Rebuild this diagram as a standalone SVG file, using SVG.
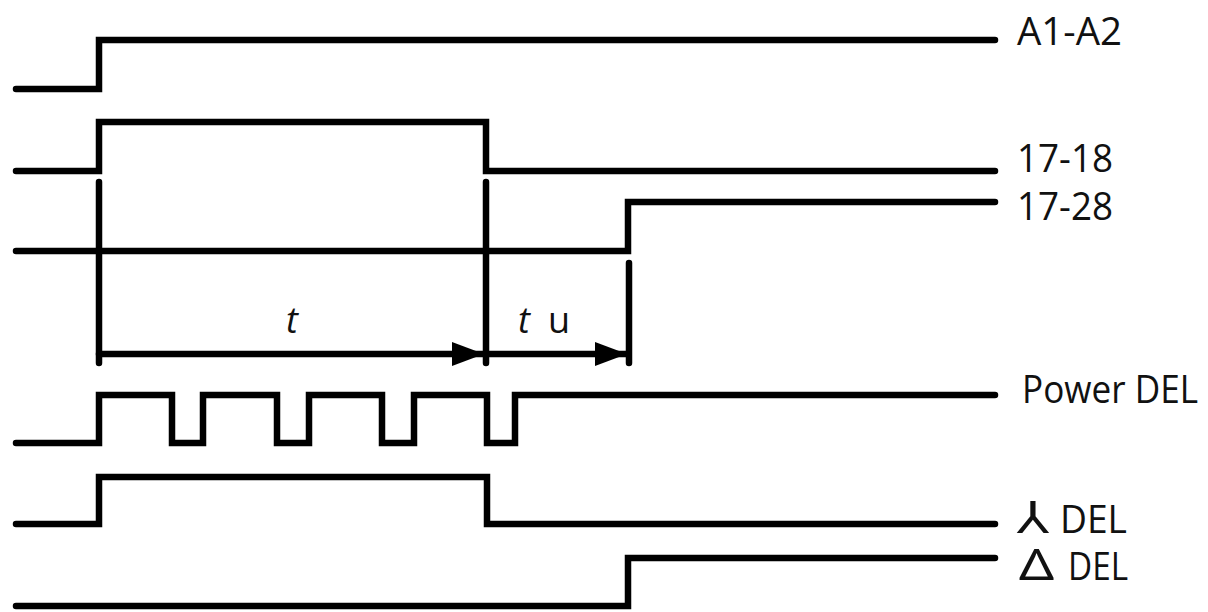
<svg xmlns="http://www.w3.org/2000/svg" width="1208" height="612" viewBox="0 0 1208 612">
<style>
.w{fill:none;stroke:#000;stroke-width:6.5;stroke-linecap:round;stroke-linejoin:miter}
.c{fill:none;stroke:#000;stroke-width:6.5;stroke-linecap:round}
.lbl{font-family:"Open Sans","Liberation Sans",sans-serif;font-size:39px;fill:#111}
.sym{font-family:"Noto Sans","DejaVu Sans",sans-serif;fill:#111}
.tl{font-family:"Open Sans","Liberation Sans",sans-serif;font-size:36px;fill:#111}
</style>
<defs>
<marker id="ah" markerUnits="userSpaceOnUse" markerWidth="34" markerHeight="26" refX="32" refY="12" orient="auto">
<path d="M0,0 L32,12 L0,24 Z" fill="#000"/>
</marker>
</defs>
<rect width="1208" height="612" fill="#fff"/>
<g id="a1a2">
<path class="w" d="M16,89 H99 V40 H995"/>
<text class="lbl" x="1017" y="45" textLength="105" lengthAdjust="spacingAndGlyphs">A1-A2</text>
</g>
<g id="c1718">
<path class="w" d="M16,171 H99 V122 H486 V171 H995"/>
<text class="lbl" x="1017" y="172" textLength="96" lengthAdjust="spacingAndGlyphs">17-18</text>
</g>
<g id="c1728">
<path class="w" d="M16,251 H628 V202 H995"/>
<text class="lbl" x="1017" y="220" textLength="96" lengthAdjust="spacingAndGlyphs">17-28</text>
</g>
<g id="power">
<path class="w" d="M16,443 H99 V395 H172 V443 H203 V395 H277 V443 H309 V395 H382 V443 H414 V395 H487 V443 H515 V395 H995"/>
<text class="lbl" x="1022" y="403" textLength="176" lengthAdjust="spacingAndGlyphs">Power DEL</text>
</g>
<g id="stardel">
<path class="w" d="M16,524 H99 V477 H487 V524 H995"/>
<text x="0" y="0" font-family="DejaVu Sans, sans-serif" font-size="44" fill="#111" transform="translate(1017,533) scale(1.2,1)">⅄</text>
<text class="lbl" x="1060" y="533" textLength="67" lengthAdjust="spacingAndGlyphs">DEL</text>
</g>
<g id="deltadel">
<path class="w" d="M16,606 H628 V558 H995"/>
<text class="sym" x="0" y="0" font-size="44" transform="translate(1019,580) scale(1.25,1)">Δ</text>
<text class="lbl" x="1068" y="580" textLength="60" lengthAdjust="spacingAndGlyphs">DEL</text>
</g>
<g id="connectors">
<line class="c" x1="99" y1="182" x2="99" y2="363"/>
<line class="c" x1="486" y1="182" x2="486" y2="363"/>
<line class="c" x1="629" y1="263" x2="629" y2="363"/>
<line class="c" x1="99" y1="354" x2="484" y2="354" stroke-linecap="butt" marker-end="url(#ah)"/>
<line class="c" x1="486" y1="354" x2="627" y2="354" stroke-linecap="butt" marker-end="url(#ah)"/>
<text class="tl" x="286" y="333" font-style="italic">t</text>
<text class="tl" x="518" y="333" font-style="italic">t</text>
<text class="tl" x="548" y="333">u</text>
</g>
</svg>
